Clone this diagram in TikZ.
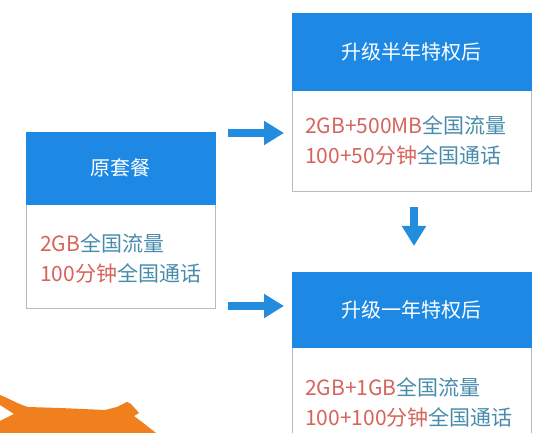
\documentclass[tikz,border=0pt]{standalone}
\usepackage{fontspec}
\setmainfont{Noto Sans CJK SC}
\usetikzlibrary{arrows.meta}
\definecolor{hblue}{RGB}{30,136,229}
\definecolor{ablue}{RGB}{34,140,222}
\definecolor{bgray}{RGB}{178,188,198}
\definecolor{tred}{RGB}{214,100,92}
\definecolor{tblue}{RGB}{72,140,172}
\definecolor{blot}{RGB}{240,127,30}
\tikzset{
  hdr/.style={fill=hblue, draw=hblue, text=white, font=\fontsize{20}{24}\selectfont, inner sep=0pt},
  bodybox/.style={draw=bgray, line width=1pt, fill=white, inner sep=0pt},
  bodytext/.style={anchor=west, align=left, inner sep=0pt, font=\fontsize{21}{30}\selectfont},
  bigarrow/.style={draw=ablue, line width=8pt, -{Triangle[length=20pt,width=23pt]}}
}
\begin{document}
\begin{tikzpicture}[x=1pt,y=-1pt]
\useasboundingbox (0,0) rectangle (550,433);
\fill[white] (0,0) rectangle (550,433);
\begin{scope}
\clip (0,0) rectangle (550,433);
% left box
\node[bodybox, minimum width=189pt, minimum height=105pt] (b1) at (120.5,256.5) {};
\node[hdr, minimum width=189pt, minimum height=72pt] (h1) at (120.5,168) {原套餐};
\node[bodytext] (t1) at (40,258) {\textcolor{tred}{2GB}\textcolor{tblue}{全国流量}\\\textcolor{tred}{100分钟}\textcolor{tblue}{全国通话}};
% top right box
\node[bodybox, minimum width=239pt, minimum height=102pt] (b2) at (411.5,141) {};
\node[hdr, minimum width=239pt, minimum height=77pt] (h2) at (411.5,51.5) {升级半年特权后};
\node[bodytext] (t2) at (305,140) {\textcolor{tred}{2GB+500MB}\textcolor{tblue}{全国流量}\\\textcolor{tred}{100+50分钟}\textcolor{tblue}{全国通话}};
% bottom right box
\node[bodybox, minimum width=239pt, minimum height=100pt] (b3) at (411.5,397) {};
\node[hdr, minimum width=239pt, minimum height=75pt] (h3) at (411.5,309.5) {升级一年特权后};
\node[bodytext] (t3) at (305,402) {\textcolor{tred}{2GB+1GB}\textcolor{tblue}{全国流量}\\\textcolor{tred}{100+100分钟}\textcolor{tblue}{全国通话}};
% arrows
\coordinate (a1s) at (228,133);
\coordinate (a1e) at (284,133);
\coordinate (a2s) at (228,306);
\coordinate (a2e) at (284,306);
\coordinate (a3s) at (414,207);
\coordinate (a3e) at (414,246);
\draw[bigarrow] (a1s) -- (a1e);
\draw[bigarrow] (a2s) -- (a2e);
\draw[bigarrow] (a3s) -- (a3e);
% orange blot
\fill[blot] (0,395) .. controls (10,399) and (18,404) .. (28,407) -- (60,408) -- (105,410) -- (117,407) -- (127,402) -- (131,404) -- (139,413) -- (134,416) -- (142,422) -- (156,433) -- (0,433) -- (0,421) -- (14,414) -- (0,405) -- cycle;
\end{scope}
\end{tikzpicture}
\end{document}
